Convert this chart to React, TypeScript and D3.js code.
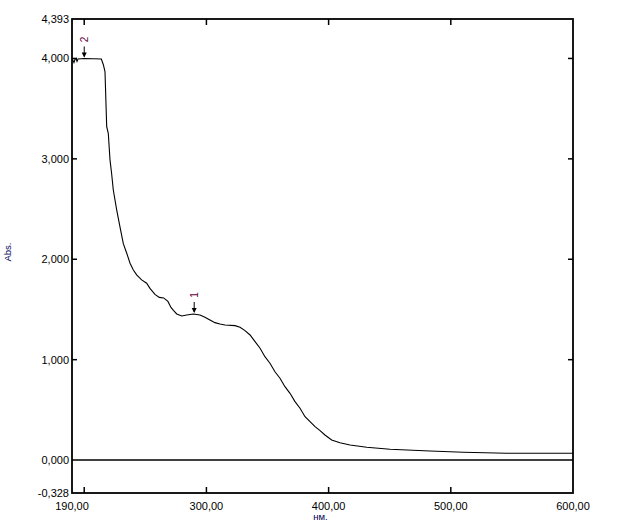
import * as d3 from 'd3';

// spectrum (nm / Abs)
const wavelength = [
  190, 190.8, 191.6, 192.4, 193.3, 194.1, 194.9, 200, 214, 215.6, 217.0, 218.4, 219.7, 221.1,
  222.4, 223.8, 226.6, 229.3, 232.0, 234.8, 237.5, 240.2, 242.9, 247.0, 251.1, 253.8, 257.9,
  261.4, 265, 268.5, 271, 273, 275.7, 279.8, 283.9, 289.3, 294.7, 298.8, 302.9, 307.0, 311.1,
  315.2, 323.4, 327.5, 331.6, 335.7, 339.8, 343.9, 347.9, 352.0, 356.1, 360.2, 364.3, 368.4,
  372.5, 376.6, 380.7, 384.8, 388.9, 393.0, 397.0, 402.5, 409.3, 417.5, 431.2, 450.2, 483.0,
  510.2, 545.7, 600,
];
const absorbance = [
  4.0, 3.98, 3.96, 3.99, 4.0, 3.97, 3.995, 4.0, 3.995, 3.94, 3.87, 3.32, 3.255, 2.99,
  2.857, 2.69, 2.49, 2.32, 2.155, 2.06, 1.96, 1.893, 1.844, 1.794, 1.761, 1.71, 1.65,
  1.62, 1.615, 1.58, 1.52, 1.49, 1.455, 1.435, 1.445, 1.455, 1.445, 1.422, 1.395, 1.369, 1.356,
  1.346, 1.339, 1.323, 1.289, 1.246, 1.179, 1.114, 1.03, 0.964, 0.88, 0.815, 0.731, 0.665,
  0.582, 0.516, 0.432, 0.382, 0.333, 0.293, 0.25, 0.2, 0.173, 0.15, 0.127, 0.108, 0.091,
  0.078, 0.068, 0.068,
];

const peakLabels = ['2', '1'];
const peakNm = [200, 290];
const peakAbs = [4.0, 1.455];

const xLabelValues = [190, 300, 400, 500, 600];
const xTickValues = [200, 300, 400, 500];
const yLabelValues = [-0.328, 0, 1, 2, 3, 4, 4.393];
const yTickValues = [1, 2, 3, 4];

const W = 642;
const H = 526;
const margin = { top: 19, right: 69, bottom: 33, left: 72 };

const fmt = (v: number, digits: number) => v.toFixed(digits).replace('.', ',');

export default function App() {
  const x = d3.scaleLinear().domain([190, 600]).range([margin.left, W - margin.right]);
  const y = d3.scaleLinear().domain([-0.328, 4.393]).range([H - margin.bottom, margin.top]);

  const points = wavelength.map((w, i) => [w, absorbance[i]] as [number, number]);
  const line = d3.line<[number, number]>()
    .x(d => x(d[0]))
    .y(d => y(d[1]));

  const x0 = x.range()[0];
  const x1 = x.range()[1];
  const yTop = y.range()[1];
  const yBot = y.range()[0];
  const font = '"Liberation Sans", Arial, sans-serif';

  return (
    <svg
      width={W}
      height={H}
      style={{ position: 'absolute', left: 0, top: 0, background: '#fff' }}
    >
      {/* zero line */}
      <line x1={x0} x2={x1} y1={y(0)} y2={y(0)} stroke="#000" strokeWidth={1.6} />

      <path d={line(points) || ''} fill="none" stroke="#000" strokeWidth={1.1} />

      {/* frame */}
      <rect
        x={x0}
        y={yTop}
        width={x1 - x0}
        height={yBot - yTop}
        fill="none"
        stroke="#000"
        strokeWidth={1.8}
      />

      {xTickValues.map(t => (
        <g key={'xt' + t}>
          <line x1={x(t)} x2={x(t)} y1={yBot} y2={yBot - 6} stroke="#000" strokeWidth={1.5} />
          <line x1={x(t)} x2={x(t)} y1={yTop} y2={yTop + 6} stroke="#000" strokeWidth={1.5} />
        </g>
      ))}
      {yTickValues.map(t => (
        <g key={'yt' + t}>
          <line x1={x0} x2={x0 + 5} y1={y(t)} y2={y(t)} stroke="#000" strokeWidth={1.5} />
          <line x1={x1} x2={x1 - 5} y1={y(t)} y2={y(t)} stroke="#000" strokeWidth={1.5} />
        </g>
      ))}

      {xLabelValues.map(t => (
        <text
          key={'xl' + t}
          x={x(t)}
          y={yBot + 17}
          textAnchor="middle"
          style={{ fontFamily: font, fontSize: '11px' }}
          fill="#000"
        >
          {fmt(t, 2)}
        </text>
      ))}
      {yLabelValues.map(t => (
        <text
          key={'yl' + t}
          x={x0 - 3}
          y={y(t)}
          dy="0.35em"
          textAnchor="end"
          style={{ fontFamily: font, fontSize: '11px' }}
          fill="#000"
        >
          {fmt(t, 3)}
        </text>
      ))}

      <text
        x={(x0 + x1) / 2 - 2}
        y={520}
        textAnchor="middle"
        style={{ fontFamily: font, fontSize: '9.5px' }}
        fill="#000055"
      >
        нм.
      </text>
      <text
        transform={`translate(11,252) rotate(-90)`}
        textAnchor="middle"
        style={{ fontFamily: font, fontSize: '9.5px' }}
        fill="#000055"
      >
        Abs.
      </text>

      {peakLabels.map((lab, i) => {
        const px = x(peakNm[i]);
        const py = y(peakAbs[i]);
        return (
          <g key={'pk' + lab}>
            <line x1={px} x2={px} y1={py - 12} y2={py - 2} stroke="#000" strokeWidth={1} />
            <path
              d={`M${px - 2.5},${py - 6} L${px + 2.5},${py - 6} L${px},${py - 1} Z`}
              fill="#000"
            />
            <text
              transform={`translate(${px + 3.5},${py - 19}) rotate(-90)`}
              textAnchor="middle"
              style={{ fontFamily: font, fontSize: '10px' }}
              fill="#660033"
            >
              {lab}
            </text>
          </g>
        );
      })}
    </svg>
  );
}
